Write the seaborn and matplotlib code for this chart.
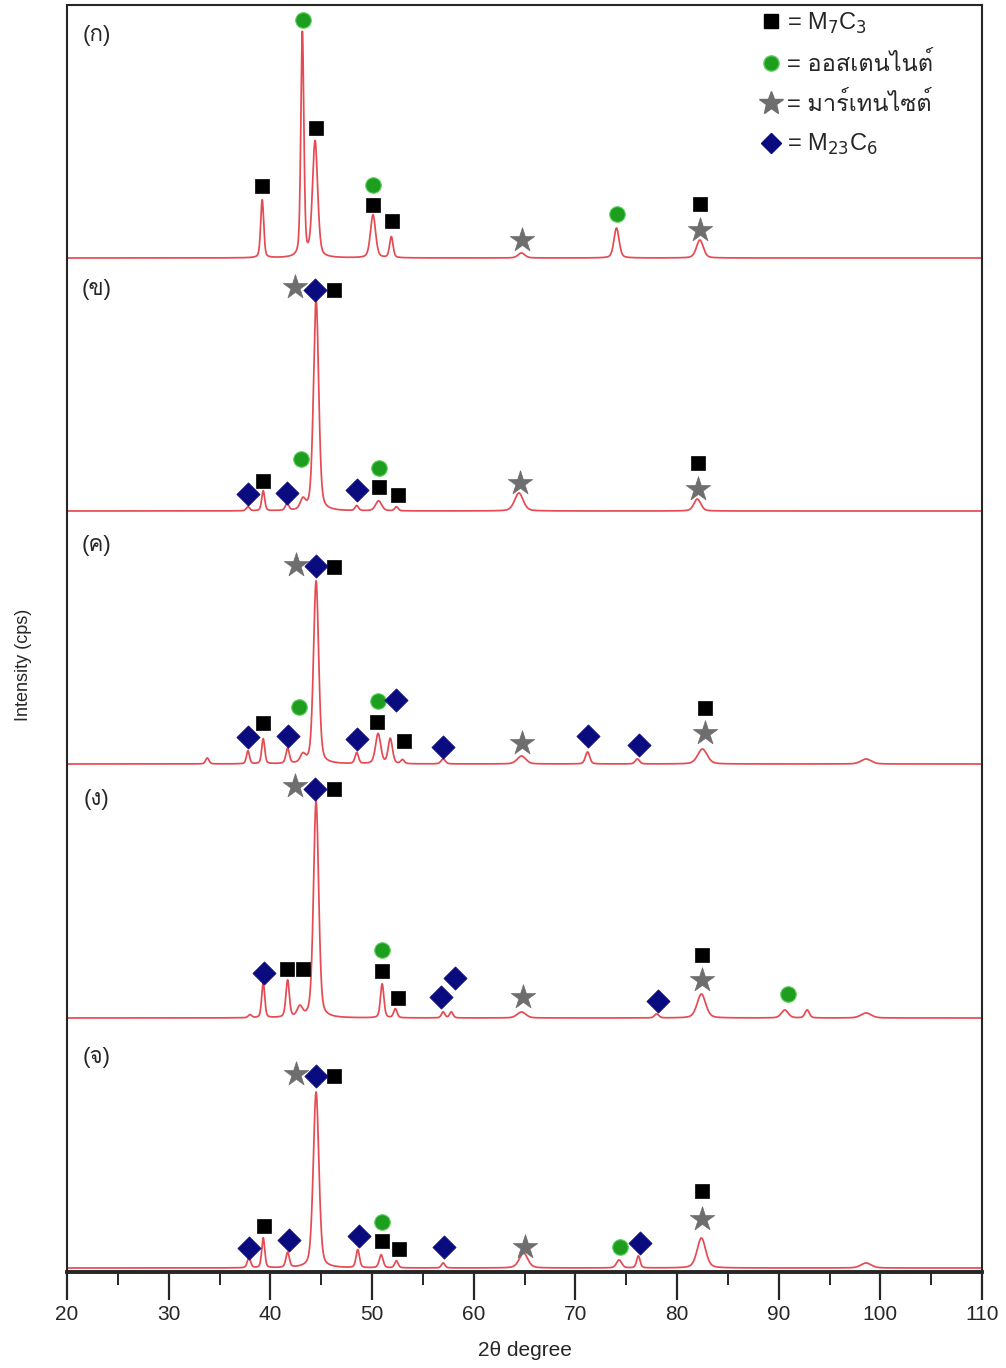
import numpy as np
import matplotlib
matplotlib.use('Agg')
import matplotlib.pyplot as plt
import seaborn as sns
from matplotlib import font_manager as fm
from matplotlib.lines import Line2D
from matplotlib.ticker import MultipleLocator

# ---- data ----
# peaks of each pattern: 2theta position, height above its baseline, width (fwhm, deg)
a_pos = [39.2, 43.15, 44.4, 50.1, 51.9, 64.7, 74.05, 82.25]
a_height = [58, 225, 116, 43, 21, 5, 30, 18]
a_width = [0.35, 0.35, 0.6, 0.6, 0.4, 0.8, 0.6, 0.8]

b_pos = [37.8, 39.3, 41.65, 43.2, 44.5, 48.5, 50.65, 52.4, 64.45, 82.0]
b_height = [4, 20, 7, 10, 212, 5, 10, 4, 18, 12]
b_width = [0.4, 0.35, 0.4, 0.6, 0.6, 0.4, 0.7, 0.4, 1.0, 0.8]

c_pos = [33.8, 37.8, 39.3, 41.7, 43.2, 44.5, 48.5, 50.6, 51.8, 53.0, 57.0, 64.7, 71.2, 76.1, 82.5, 98.6]
c_height = [6, 13, 25, 15, 8, 183, 11, 30, 25, 4, 5, 8, 12, 5, 15, 5]
c_width = [0.4, 0.35, 0.35, 0.4, 0.6, 0.6, 0.4, 0.6, 0.5, 0.4, 0.5, 1.0, 0.5, 0.5, 1.1, 1.2]

d_pos = [38.0, 39.3, 41.7, 42.9, 44.5, 51.0, 52.3, 57.0, 57.8, 64.7, 78.0, 82.4, 90.6, 92.8, 98.6]
d_height = [3, 35, 37, 10, 217, 34, 9, 6, 6, 6, 4, 24, 8, 8, 5]
d_width = [0.4, 0.35, 0.4, 0.6, 0.6, 0.4, 0.4, 0.4, 0.4, 1.0, 0.5, 1.0, 0.8, 0.5, 1.2]

e_pos = [37.9, 39.3, 41.7, 44.5, 48.6, 50.9, 52.4, 57.0, 64.9, 74.3, 76.2, 82.4, 98.6]
e_height = [10, 30, 15, 176, 18, 13, 7, 5, 15, 8, 12, 30, 5]
e_width = [0.4, 0.35, 0.4, 0.65, 0.4, 0.45, 0.4, 0.4, 1.0, 0.6, 0.4, 1.0, 1.2]

baselines = [1014, 761, 508, 254, 4]
panel_names = ['(ก)', '(ข)', '(ค)', '(ง)', '(จ)']
panel_label_y = [1237, 982, 727, 472, 214]

# phase markers (2theta, height in plot units)
m7c3_x = [39.17, 44.48, 50.09, 51.96, 82.24,
          46.25, 39.27, 50.68, 52.55, 82.05,
          46.25, 39.27, 50.48, 53.14, 82.73,
          46.25, 41.63, 43.21, 50.97, 52.55, 82.44,
          46.25, 39.37, 50.97, 52.64, 82.44]
m7c3_y = [1086, 1144, 1067, 1051, 1068,
          982, 791, 785, 777, 809,
          705, 549, 550, 531, 564,
          483, 303, 303, 301, 274, 317,
          196, 46, 31, 23, 81]

aust_x = [43.21, 50.09, 74.08, 43.01, 50.68, 42.81, 50.58, 50.97, 90.90, 50.97, 74.38]
aust_y = [1252, 1087, 1058, 813, 804, 565, 571, 322, 278, 50, 25]

mart_x = [64.74, 82.24, 42.42, 64.54, 82.05, 42.52, 64.74, 82.73,
          42.42, 64.84, 82.44, 42.52, 65.03, 82.44]
mart_y = [1032, 1042, 985, 789, 783, 707, 529, 539,
          486, 275, 292, 198, 25, 53]

m23_x = [44.39, 37.80, 41.63, 48.52,
         44.48, 37.80, 41.73, 48.52, 52.35, 56.97, 71.23, 76.24,
         44.39, 39.37, 56.77, 58.15, 78.11,
         44.48, 37.90, 41.83, 48.71, 57.07, 76.34]
m23_y = [982, 778, 779, 782,
         706, 535, 536, 533, 572, 525, 536, 527,
         483, 299, 275, 294, 271,
         196, 24, 32, 36, 25, 29]

legend_labels = ['= M$_7$C$_3$', '= ออสเตนไนต์', '= มาร์เทนไซต์', '= M$_{23}$C$_6$']


def find_thai_font():
    # look for any installed font that covers the Thai block
    try:
        from fontTools.ttLib import TTFont
    except ImportError:
        return None
    for f in fm.fontManager.ttflist:
        try:
            cmap = TTFont(f.fname, fontNumber=0, lazy=True).getBestCmap()
        except Exception:
            continue
        if cmap and 0x0E01 in cmap and 0x0E44 in cmap:
            return f.name
    return None


sns.set_style("ticks")
thai = find_thai_font()
families = ['Liberation Sans'] + ([thai] if thai else []) + ['DejaVu Sans']
plt.rcParams['font.family'] = families

x = np.linspace(20, 110, 4501)


def pattern(pos, height, width):
    y = np.zeros_like(x)
    for p, h, w in zip(pos, height, width):
        g = np.exp(-4 * np.log(2) * ((x - p) / w) ** 2)
        l = 1 / (1 + 4 * ((x - p) / w) ** 2)
        y += h * (0.65 * g + 0.35 * l)
    return y


fig = plt.figure(figsize=(10.06, 13.68), dpi=100)
ax = fig.add_axes([67 / 1006, 96 / 1368, 915 / 1006, 1267 / 1368])

peak_sets = [(a_pos, a_height, a_width), (b_pos, b_height, b_width),
             (c_pos, c_height, c_width), (d_pos, d_height, d_width),
             (e_pos, e_height, e_width)]
for (pos, h, w), base in zip(peak_sets, baselines):
    sns.lineplot(x=x, y=pattern(pos, h, w) + base, ax=ax, color='#e64a52',
                 lw=1.25, estimator=None, sort=False)

sns.scatterplot(x=m7c3_x, y=m7c3_y, ax=ax, marker='s', s=115, color='black',
                edgecolor='black', linewidth=0.5, zorder=5)
sns.scatterplot(x=aust_x, y=aust_y, ax=ax, marker='o', s=125, color='#1e9e1e',
                edgecolor='#5ccf5c', linewidth=0.8, zorder=5)
sns.scatterplot(x=mart_x, y=mart_y, ax=ax, marker='*', s=340, color='#6e6e6e',
                edgecolor='#6e6e6e', linewidth=0.5, zorder=5)
sns.scatterplot(x=m23_x, y=m23_y, ax=ax, marker='D', s=140, color='#0b0b80',
                edgecolor='#0b0b80', linewidth=0.5, zorder=5)

for name, ly in zip(panel_names, panel_label_y):
    ax.text(22.95, ly, name, fontsize=16, ha='center', va='center')

handles = [
    Line2D([], [], ls='', marker='s', ms=10, color='black'),
    Line2D([], [], ls='', marker='o', ms=11, color='#1e9e1e', mec='#5ccf5c'),
    Line2D([], [], ls='', marker='*', ms=18, color='#6e6e6e'),
    Line2D([], [], ls='', marker='D', ms=10, color='#0b0b80'),
]
ax.legend(handles, legend_labels, loc='upper left', bbox_to_anchor=(0.746, 1.004),
          frameon=False, fontsize=17, handlelength=0.9, handletextpad=0.25,
          labelspacing=0.68, borderaxespad=0.05)

ax.set_xlim(20, 110)
ax.set_ylim(0, 1267)
ax.set_yticks([])
ax.xaxis.set_major_locator(MultipleLocator(10))
ax.xaxis.set_minor_locator(MultipleLocator(5))
ax.tick_params(axis='x', which='major', direction='out', length=20, width=1.6,
               labelsize=15, pad=4)
ax.tick_params(axis='x', which='minor', direction='out', length=9, width=1.4)
for side in ['left', 'right', 'top']:
    ax.spines[side].set_linewidth(1.5)
ax.spines['bottom'].set_linewidth(2.8)

ax.set_xlabel('2θ degree', fontsize=15, labelpad=12)
ax.set_ylabel('Intensity (cps)', fontsize=13)
ax.yaxis.set_label_coords(-0.038, 0.479)

fig.savefig('out.png', dpi=100)
